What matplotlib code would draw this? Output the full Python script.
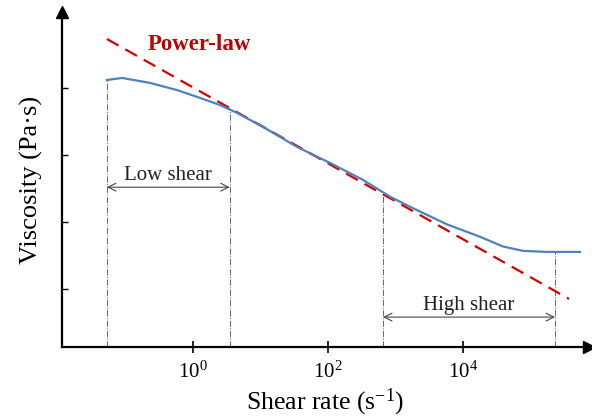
import matplotlib
matplotlib.use("Agg")
import matplotlib.pyplot as plt
import numpy as np

plt.rcParams['font.family'] = ['Liberation Serif', 'DejaVu Serif']
plt.rcParams['mathtext.fontset'] = 'custom'
plt.rcParams['mathtext.rm'] = 'Liberation Serif'
plt.rcParams['mathtext.it'] = 'Liberation Serif:italic'

# flow curve (shear rate 1/s, viscosity Pa.s)
shear_rate = [0.053, 0.089, 0.23, 0.58, 1.27, 2.5, 4.5, 10.9, 34.7, 107,
              330, 830, 1820, 5790, 17900, 39100, 77400, 175000, 541000]
viscosity = [1315, 1410, 1190, 930, 710, 557, 424, 262, 132, 76,
             42.4, 23.8, 16.0, 9.2, 6.0, 4.3, 3.7, 3.57, 3.57]

# power-law fit line end points
power_rate = [0.053, 372000]
power_visc = [5380, 0.71]

# region boundaries
low_shear = [0.053, 3.5]
high_shear = [653, 231000]
low_arrow_y = 33
high_arrow_y = 0.38

x_ticks = [1, 100, 10000]
x_tick_labels = ['$10^0$', '$10^2$', '$10^4$']
y_ticks = [1, 10, 100, 1000]

fig = plt.figure(figsize=(5.92, 4.17), dpi=100)
ax = fig.add_axes([0.1047, 0.1679, 0.8903, 0.8033])
ax.set_xscale('log')
ax.set_yscale('log')
ax.set_xlim(0.01145, 736000)
ax.set_ylim(0.136, 13600)

ax.plot(shear_rate, viscosity, color='#4F81BD', lw=1.6, zorder=3)
ax.plot(power_rate, power_visc, color='#D40000', lw=1.6, ls=(0, (6, 3.5)), zorder=2)

# dash-dot boundaries up to the curve
lx = np.log10(shear_rate)
ly = np.log10(viscosity)
for xv in low_shear + high_shear:
    top = 10 ** np.interp(np.log10(xv), lx, ly)
    ax.plot([xv, xv], [0.136, top], color='#666666', lw=0.7, ls='-.', zorder=1)

for (x0, x1), yv, label in [(low_shear, low_arrow_y, 'Low shear'),
                            (high_shear, high_arrow_y, 'High shear')]:
    ax.annotate('', xy=(x0, yv), xytext=(x1, yv),
                arrowprops=dict(arrowstyle='<->', color='#444444', lw=0.8,
                                mutation_scale=14, shrinkA=0, shrinkB=0))
    ax.text(np.sqrt(x0 * x1), yv * 1.08, label, ha='center', va='bottom',
            fontsize=15, color='#222222')

ax.text(0.21, 4390, 'Power-law', color='#C00000', fontsize=16.5,
        fontweight='bold', ha='left', va='center')

for s in ['top', 'right']:
    ax.spines[s].set_visible(False)
for s in ['left', 'bottom']:
    ax.spines[s].set_linewidth(1.6)

ax.set_xticks(x_ticks)
ax.set_xticklabels(x_tick_labels, fontsize=15)
ax.set_yticks(y_ticks)
ax.set_yticklabels([])
ax.minorticks_off()
ax.tick_params(axis='x', direction='inout', length=9, width=1.2, pad=6)
ax.tick_params(axis='y', direction='in', length=4, width=1.0)

# arrow heads on the axes
ax.plot([0], [1], marker='^', markersize=8, color='black',
        transform=ax.transAxes, clip_on=False)
ax.plot([1], [0], marker='>', markersize=8, color='black',
        transform=ax.transAxes, clip_on=False)

ax.set_xlabel('Shear rate (s$^{-1}$)', fontsize=18.5, labelpad=3)
ax.set_ylabel('Viscosity (Pa·s)', fontsize=19, labelpad=10)

fig.savefig('out.png', dpi=100)
